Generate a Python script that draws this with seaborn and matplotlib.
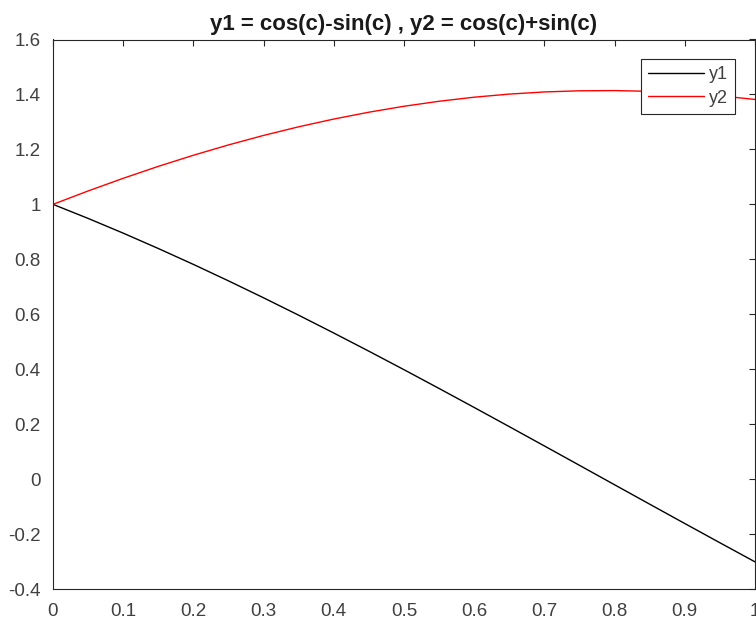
import matplotlib
matplotlib.use("Agg")
import matplotlib.pyplot as plt
import pandas as pd
import seaborn as sns

# Sample points of the two curves
c = [0.00, 0.05, 0.10, 0.15, 0.20, 0.25, 0.30, 0.35, 0.40, 0.45, 0.50,
     0.55, 0.60, 0.65, 0.70, 0.75, 0.80, 0.85, 0.90, 0.95, 1.00]
y1 = [1.0000, 0.9488, 0.8952, 0.8393, 0.7814, 0.7215, 0.6598, 0.5965, 0.5316,
      0.4655, 0.3982, 0.3298, 0.2607, 0.1909, 0.1206, 0.0501, -0.0207,
      -0.0913, -0.1617, -0.2317, -0.3012]
y2 = [1.0000, 1.0487, 1.0948, 1.1382, 1.1787, 1.2163, 1.2509, 1.2823, 1.3105,
      1.3354, 1.3570, 1.3752, 1.3900, 1.4013, 1.4091, 1.4133, 1.4141, 1.4113,
      1.4049, 1.3951, 1.3818]
series_names = ["y1", "y2"]
x_ticks = [0, 0.1, 0.2, 0.3, 0.4, 0.5, 0.6, 0.7, 0.8, 0.9, 1]
x_labels = ["0", "0.1", "0.2", "0.3", "0.4", "0.5", "0.6", "0.7", "0.8", "0.9", "1"]
y_ticks = [-0.4, -0.2, 0, 0.2, 0.4, 0.6, 0.8, 1.0, 1.2, 1.4, 1.6]
y_labels = ["-0.4", "-0.2", "0", "0.2", "0.4", "0.6", "0.8", "1", "1.2", "1.4", "1.6"]
title = "y1 = cos(c)-sin(c) , y2 = cos(c)+sin(c)"

df = pd.DataFrame({
    "c": c * 2,
    "y": y1 + y2,
    "series": [series_names[0]] * len(c) + [series_names[1]] * len(c),
})

sns.set_style("white")
plt.rcParams["font.family"] = ["Liberation Sans", "DejaVu Sans"]

W, H = 756, 626
left, right, top, bottom = 53, 755, 39.5, 589
fig = plt.figure(figsize=(W / 100, H / 100), dpi=100)
ax = fig.add_axes([left / W, 1 - bottom / H, (right - left) / W, (bottom - top) / H])

sns.lineplot(data=df, x="c", y="y", hue="series",
             palette={"y1": "#000000", "y2": "#ff0000"},
             linewidth=1.0, ax=ax, legend=False)

ax.set_xlim(0, 1)
ax.set_ylim(-0.4, 1.6)
ax.set_xticks(x_ticks)
ax.set_xticklabels(x_labels)
ax.set_yticks(y_ticks)
ax.set_yticklabels(y_labels)
ax.set_xlabel("")
ax.set_ylabel("")
ax.tick_params(direction="in", length=4, width=0.8, color="#262626",
               labelcolor="#404040", labelsize=13.5, top=True, right=True)
ax.tick_params(axis="x", pad=10)
ax.tick_params(axis="y", pad=9)
for sp in ax.spines.values():
    sp.set_visible(True)
    sp.set_color("#262626")
    sp.set_linewidth(0.8)

ax.set_title(title, fontsize=16, fontweight="bold", pad=7, color="#1a1a1a")

handles = [plt.Line2D([], [], color="#000000", lw=1.0),
           plt.Line2D([], [], color="#ff0000", lw=1.0)]
leg_x = (735 - left) / (right - left)
leg_y = 1 - (59 - top) / (bottom - top)
leg = ax.legend(handles, series_names, loc="upper right",
                bbox_to_anchor=(leg_x, leg_y),
                frameon=True, fancybox=False, fontsize=13, handlelength=3.1,
                handletextpad=0.25, borderpad=0.4, labelspacing=0.35,
                borderaxespad=0, framealpha=1)
leg.get_frame().set_edgecolor("#262626")
leg.get_frame().set_linewidth(0.8)
for t in leg.get_texts():
    t.set_color("#404040")

fig.savefig("out.png", dpi=100, facecolor="white")
